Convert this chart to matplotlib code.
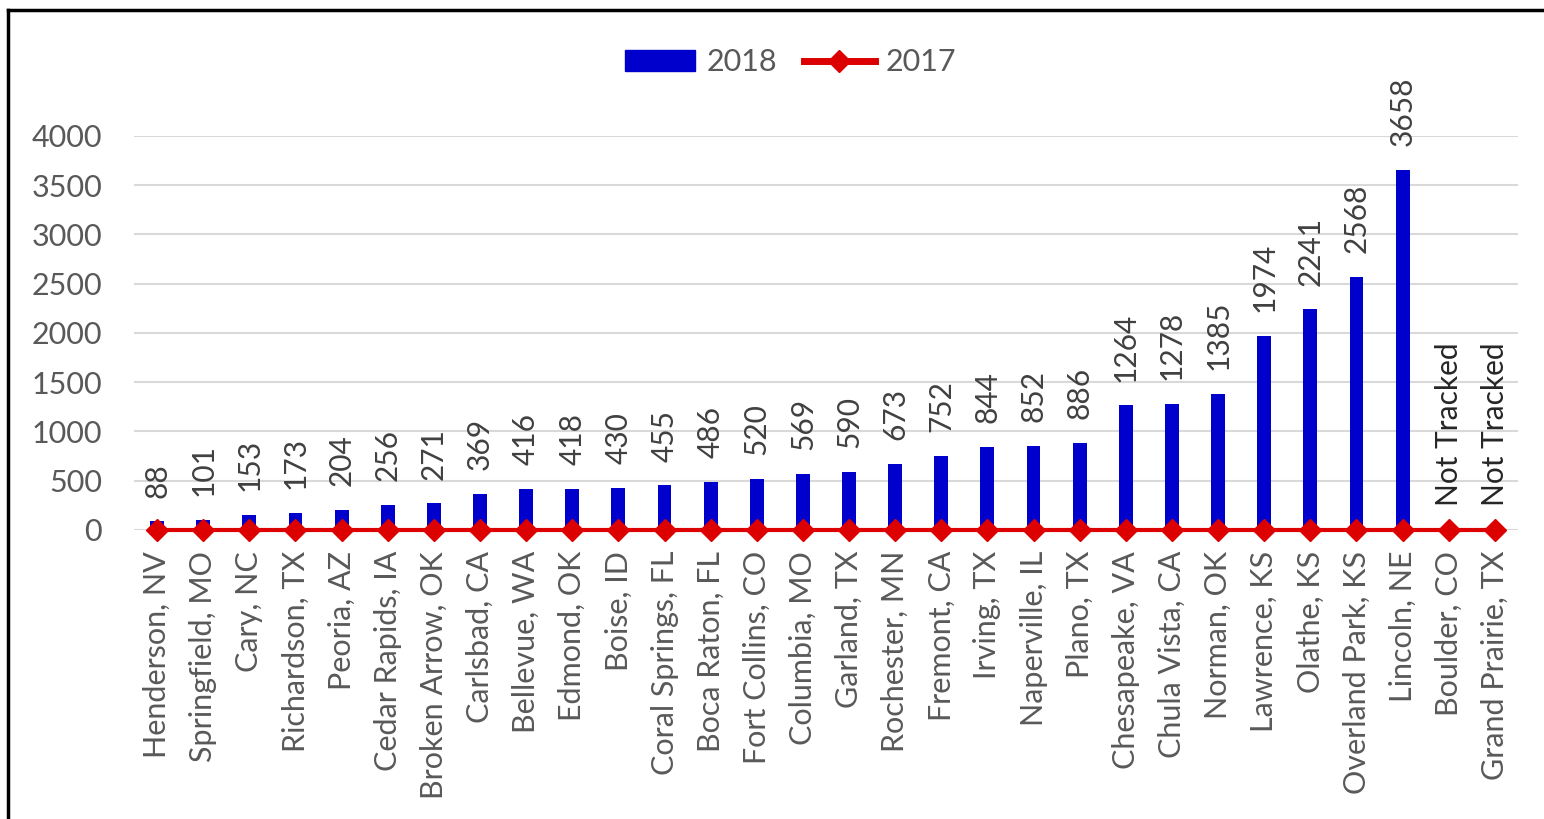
import matplotlib.pyplot as plt
import numpy as np
from matplotlib.lines import Line2D
from matplotlib.patches import Patch

plt.rcParams['font.family'] = ['Lato', 'DejaVu Sans']

# data
cities = ['Henderson, NV', 'Springfield, MO', 'Cary, NC', 'Richardson, TX',
          'Peoria, AZ', 'Cedar Rapids, IA', 'Broken Arrow, OK', 'Carlsbad, CA',
          'Bellevue, WA', 'Edmond, OK', 'Boise, ID', 'Coral Springs, FL',
          'Boca Raton, FL', 'Fort Collins, CO', 'Columbia, MO', 'Garland, TX',
          'Rochester, MN', 'Fremont, CA', 'Irving, TX', 'Naperville, IL',
          'Plano, TX', 'Chesapeake, VA', 'Chula Vista, CA', 'Norman, OK',
          'Lawrence, KS', 'Olathe, KS', 'Overland Park, KS', 'Lincoln, NE',
          'Boulder, CO', 'Grand Prairie, TX']
vals_2018 = [88, 101, 153, 173, 204, 256, 271, 369, 416, 418, 430, 455, 486,
             520, 569, 590, 673, 752, 844, 852, 886, 1264, 1278, 1385, 1974,
             2241, 2568, 3658, None, None]
vals_2017 = [0] * len(cities)

blue = '#0000CC'
red = '#DD0000'
grey = '#595959'

fig = plt.figure(figsize=(15.44, 8.19), dpi=100)
ax = fig.add_axes([0.0868, 0.3529, 0.8963, 0.4811])

x = np.arange(len(cities))
h = [v if v is not None else 0 for v in vals_2018]
ax.bar(x, h, width=0.3, color=blue, zorder=2)
ax.plot(x, vals_2017, color=red, lw=3, marker='D', markersize=11,
        zorder=3, clip_on=False)

for xi, v in zip(x, vals_2018):
    if v is None:
        ax.annotate('Not Tracked', (xi, 0), xytext=(0, 17),
                    textcoords='offset points', rotation=90, ha='center',
                    va='bottom', fontsize=21.5, color='#262626')
    else:
        ax.annotate(str(v), (xi, v), xytext=(0, 17),
                    textcoords='offset points', rotation=90, ha='center',
                    va='bottom', fontsize=21.5, color='#404040')

ax.set_xlim(-0.5, len(cities) - 0.5)
ax.set_ylim(0, 4000)
ax.set_yticks(range(0, 4001, 500))
ax.set_xticks(x)
ax.set_xticklabels(cities, rotation=90, fontsize=22, color=grey)
ax.tick_params(axis='y', labelsize=22, labelcolor=grey, length=0, pad=23)
ax.tick_params(axis='x', length=0, pad=15)
ax.grid(axis='y', color='#D9D9D9', lw=1.5, zorder=0)
ax.set_axisbelow(True)
for s in ax.spines.values():
    s.set_visible(False)

handles = [Patch(color=blue),
           Line2D([], [], color=red, lw=5, marker='D', markersize=11)]
fig.legend(handles, ['2018', '2017'], loc='center',
           bbox_to_anchor=(0.512, 0.924), ncol=2, frameon=False,
           fontsize=22, labelcolor=grey, handlelength=2.3, handleheight=0.7,
           columnspacing=0.9, handletextpad=0.35)

# outer frame (right and bottom edges fall outside the picture)
fig.add_artist(Line2D([0.0052, 1.0], [0.9878, 0.9878], color='black', lw=2.5,
                      transform=fig.transFigure))
fig.add_artist(Line2D([0.0052, 0.0052], [0.0, 0.9878], color='black', lw=2.5,
                      transform=fig.transFigure))

fig.savefig('out.png', dpi=100)
